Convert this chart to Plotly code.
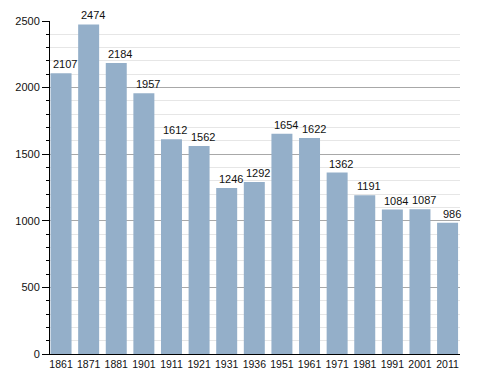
import plotly.graph_objects as go

years = ["1861", "1871", "1881", "1901", "1911", "1921", "1931", "1936", "1951", "1961", "1971", "1981", "1991", "2001", "2011"]
population = [2107, 2474, 2184, 1957, 1612, 1562, 1246, 1292, 1654, 1622, 1362, 1191, 1084, 1087, 986]

fig = go.Figure(go.Bar(
    x=years, y=population,
    marker=dict(color="#94afc9", line=dict(width=0)),
    cliponaxis=False,
))

for i, v in enumerate(population):
    fig.add_annotation(
        x=i, y=v, text=str(v), showarrow=False,
        xref="x", yref="y",
        xanchor="center", yanchor="bottom", xshift=4, yshift=1,
        font=dict(size=11, color="#111111", family="Liberation Sans, Arial"),
    )

# page body has an 8px margin, so the figure is sized/offset to compensate
fig.update_layout(
    width=480, height=365,
    margin=dict(l=42, r=28, t=13, b=19),
    paper_bgcolor="white", plot_bgcolor="white",
    bargap=0.24,
    showlegend=False,
    font=dict(family="Liberation Sans, Arial", size=11, color="#111111"),
)
fig.update_xaxes(
    type="category", range=[-0.4, 14.45], automargin=False,
    showline=True, linecolor="black", linewidth=1,
    ticks="", showgrid=False, tickfont=dict(size=10.5),
)
fig.update_yaxes(
    range=[0, 2500], tickvals=[0, 500, 1000, 1500, 2000, 2500], automargin=False,
    showline=True, linecolor="black", linewidth=1,
    ticks="outside", ticklen=7, tickcolor="black",
    showgrid=True, gridcolor="#a8a8a8", gridwidth=1,
    zeroline=False,
    minor=dict(dtick=100, showgrid=True, gridcolor="#e6e6e6", ticks="outside", ticklen=3, tickcolor="black"),
    tickfont=dict(size=11),
)

fig.write_html("out.html")
